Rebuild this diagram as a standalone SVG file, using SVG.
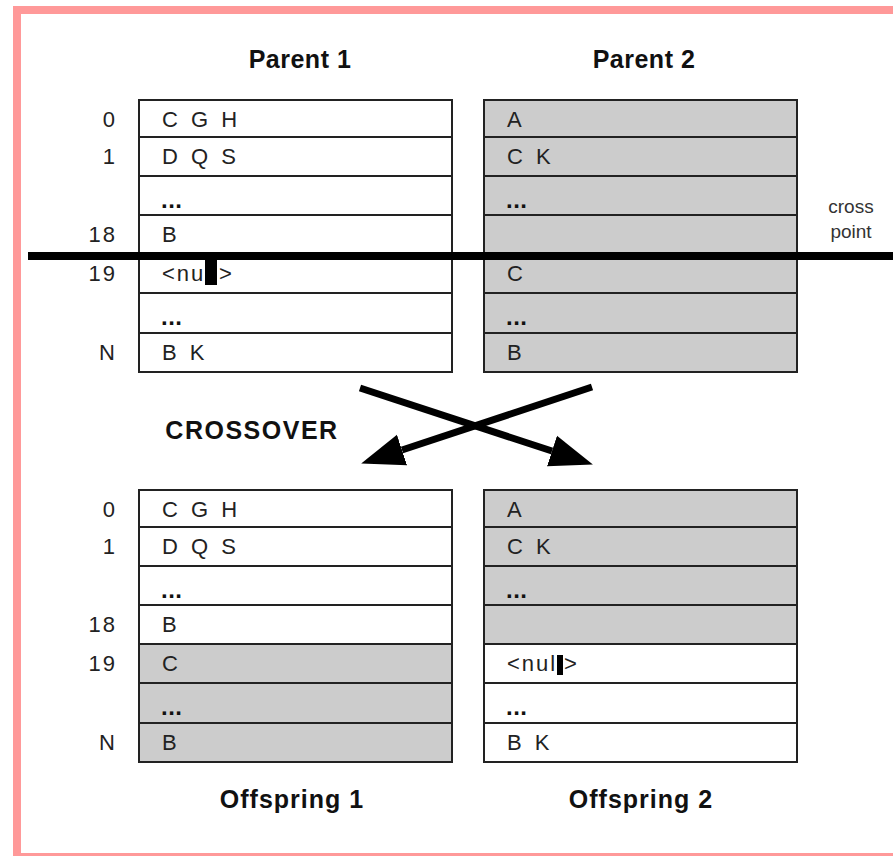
<svg xmlns="http://www.w3.org/2000/svg" width="893" height="856" viewBox="0 0 893 856">
  <style>
    .frame { fill: none; stroke: #ff9999; stroke-width: 8; }
    .cell { stroke: #222; stroke-width: 2; }
    .w { fill: #ffffff; }
    .g { fill: #cccccc; }
    .txt { font-family: "Liberation Sans", Arial, sans-serif; font-size: 22px; fill: #222; letter-spacing: 2px; word-spacing: 3px; }
    .dots { font-family: "Liberation Sans", Arial, sans-serif; font-size: 24px; font-weight: bold; fill: #111; letter-spacing: 0.5px; }
    .idx { font-family: "Liberation Sans", Arial, sans-serif; font-size: 22px; fill: #222; text-anchor: end; letter-spacing: 2px; }
    .head { font-family: "Liberation Sans", Arial, sans-serif; font-size: 25px; font-weight: bold; fill: #111; text-anchor: middle; letter-spacing: 0.5px; }
    .wide { letter-spacing: 1px; }
    .small { font-family: "Liberation Sans", Arial, sans-serif; font-size: 19px; fill: #333; text-anchor: middle; }
    .arrow { stroke: #000; stroke-width: 7; fill: none; }
  </style>
  <defs>
    <marker id="head" markerUnits="userSpaceOnUse" markerWidth="44" markerHeight="34" refX="0" refY="17" orient="auto" viewBox="0 0 44 34">
      <path d="M0,1 L43,17 L0,33 Z" fill="#000"/>
    </marker>
  </defs>

  <rect width="893" height="856" fill="#ffffff"/>
  <rect class="frame" x="17" y="10" width="910" height="847"/>

  <!-- column headings -->
  <text class="head" x="300" y="68">Parent 1</text>
  <text class="head" x="644" y="68">Parent 2</text>
  <text class="head wide" x="292" y="808">Offspring 1</text>
  <text class="head wide" x="641" y="808">Offspring 2</text>

  <!-- row indices, parents -->
  <g id="index-parents">
    <text class="idx" x="117" y="127">0</text>
    <text class="idx" x="117" y="164">1</text>
    <text class="idx" x="117" y="242">18</text>
    <text class="idx" x="117" y="281">19</text>
    <text class="idx" x="117" y="360">N</text>
  </g>

  <!-- Parent 1 -->
  <g id="parent1">
    <rect class="cell w" x="139" y="100" width="313" height="37"/>
    <rect class="cell w" x="139" y="137" width="313" height="39"/>
    <rect class="cell w" x="139" y="176" width="313" height="39"/>
    <rect class="cell w" x="139" y="215" width="313" height="39"/>
    <rect class="cell w" x="139" y="254" width="313" height="39"/>
    <rect class="cell w" x="139" y="293" width="313" height="40"/>
    <rect class="cell w" x="139" y="333" width="313" height="39"/>
    <text class="txt" x="162" y="127">C G H</text>
    <text class="txt" x="162" y="164">D Q S</text>
    <text class="dots" x="161" y="208">...</text>
    <text class="txt" x="162" y="242">B</text>
    <text class="txt" x="162" y="281">&lt;null&gt;</text>
    <rect x="205" y="256" width="12" height="29" fill="#000"/>
    <text class="dots" x="161" y="325">...</text>
    <text class="txt" x="162" y="360">B K</text>
  </g>

  <!-- Parent 2 -->
  <g id="parent2">
    <rect class="cell g" x="484" y="100" width="313" height="37"/>
    <rect class="cell g" x="484" y="137" width="313" height="39"/>
    <rect class="cell g" x="484" y="176" width="313" height="39"/>
    <rect class="cell g" x="484" y="215" width="313" height="39"/>
    <rect class="cell g" x="484" y="254" width="313" height="39"/>
    <rect class="cell g" x="484" y="293" width="313" height="40"/>
    <rect class="cell g" x="484" y="333" width="313" height="39"/>
    <text class="txt" x="507" y="127">A</text>
    <text class="txt" x="507" y="164">C K</text>
    <text class="dots" x="506" y="208">...</text>
    <text class="txt" x="507" y="281">C</text>
    <text class="dots" x="506" y="325">...</text>
    <text class="txt" x="507" y="360">B</text>
  </g>

  <!-- cross point -->
  <g id="crosspoint">
    <line x1="28" y1="256" x2="893" y2="256" stroke="#000" stroke-width="8"/>
    <text class="small" x="851" y="213">cross</text>
    <text class="small" x="851" y="238">point</text>
  </g>

  <!-- crossover arrows -->
  <g id="connectors">
    <line class="arrow" x1="360" y1="388" x2="552" y2="451" marker-end="url(#head)"/>
    <line class="arrow" x1="592" y1="387" x2="402" y2="450" marker-end="url(#head)"/>
  </g>
  <text class="head" x="252" y="439" style="letter-spacing:1.5px">CROSSOVER</text>

  <!-- row indices, offspring -->
  <g id="index-offspring">
    <text class="idx" x="117" y="517">0</text>
    <text class="idx" x="117" y="554">1</text>
    <text class="idx" x="117" y="632">18</text>
    <text class="idx" x="117" y="671">19</text>
    <text class="idx" x="117" y="750">N</text>
  </g>

  <!-- Offspring 1 -->
  <g id="offspring1">
    <rect class="cell w" x="139" y="490" width="313" height="37"/>
    <rect class="cell w" x="139" y="527" width="313" height="39"/>
    <rect class="cell w" x="139" y="566" width="313" height="39"/>
    <rect class="cell w" x="139" y="605" width="313" height="39"/>
    <rect class="cell g" x="139" y="644" width="313" height="39"/>
    <rect class="cell g" x="139" y="683" width="313" height="40"/>
    <rect class="cell g" x="139" y="723" width="313" height="39"/>
    <text class="txt" x="162" y="517">C G H</text>
    <text class="txt" x="162" y="554">D Q S</text>
    <text class="dots" x="161" y="598">...</text>
    <text class="txt" x="162" y="632">B</text>
    <text class="txt" x="162" y="671">C</text>
    <text class="dots" x="161" y="715">...</text>
    <text class="txt" x="162" y="750">B</text>
  </g>

  <!-- Offspring 2 -->
  <g id="offspring2">
    <rect class="cell g" x="484" y="490" width="313" height="37"/>
    <rect class="cell g" x="484" y="527" width="313" height="39"/>
    <rect class="cell g" x="484" y="566" width="313" height="39"/>
    <rect class="cell g" x="484" y="605" width="313" height="39"/>
    <rect class="cell w" x="484" y="644" width="313" height="39"/>
    <rect class="cell w" x="484" y="683" width="313" height="40"/>
    <rect class="cell w" x="484" y="723" width="313" height="39"/>
    <text class="txt" x="507" y="517">A</text>
    <text class="txt" x="507" y="554">C K</text>
    <text class="dots" x="506" y="598">...</text>
    <text class="txt" x="507" y="671">&lt;null&gt;</text>
    <rect x="557" y="655" width="6" height="20" fill="#000"/>
    <text class="dots" x="506" y="715">...</text>
    <text class="txt" x="507" y="750">B K</text>
  </g>
</svg>
